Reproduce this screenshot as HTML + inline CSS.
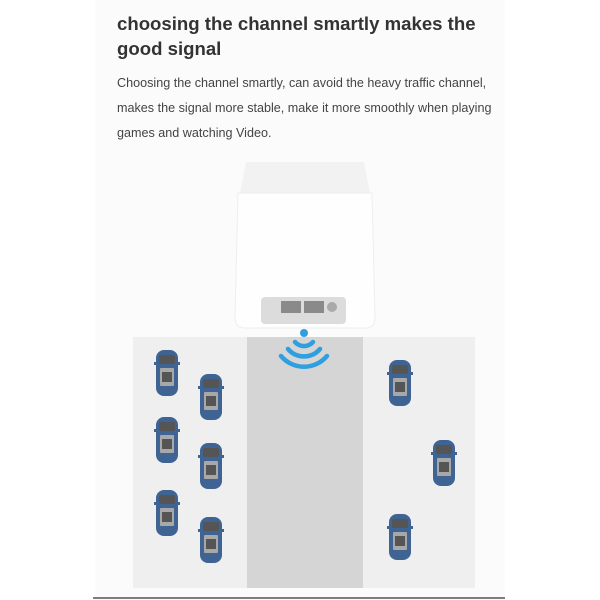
<!DOCTYPE html>
<html><head><style>
body{margin:0;width:600px;height:600px;background:#fff;position:relative;overflow:hidden;font-family:"Liberation Sans",sans-serif}
.panel{position:absolute;left:95px;top:0;width:410px;height:600px;background:#fbfbfb}
h1{position:absolute;left:117px;top:11px;margin:0;font-size:18.6px;line-height:25px;font-weight:bold;color:#333;width:380px}
p{position:absolute;left:117px;top:71px;margin:0;font-size:12.6px;line-height:25px;color:#444;width:385px;white-space:nowrap}
.car{position:absolute;width:22px;height:46px}
</style></head><body>
<div class="panel"></div>
<h1>choosing the channel smartly makes the good signal</h1>
<p>Choosing the channel smartly, can avoid the heavy traffic channel,<br>makes the signal more stable, make it more smoothly when playing<br>games and watching Video.</p>
<svg width="600" height="600" style="position:absolute;left:0;top:0">
<defs>
<g id="car">
<rect x="0" y="0" width="22" height="46" rx="8" fill="#3f6494"/>
<rect x="3" y="5" width="16" height="9" rx="2" fill="#555"/>
<rect x="4" y="18" width="14" height="18" rx="1" fill="#a8a8a8"/>
<rect x="6" y="22" width="10" height="10" fill="#555"/>
<rect x="-2" y="12" width="3" height="3" fill="#3f6494"/>
<rect x="21" y="12" width="3" height="3" fill="#3f6494"/>
</g>
</defs>
<rect x="133" y="337" width="114" height="251" fill="#efefef"/>
<rect x="247" y="337" width="116" height="251" fill="#d5d5d5"/>
<rect x="363" y="337" width="112" height="251" fill="#efefef"/>
<line x1="93" y1="598" x2="505" y2="598" stroke="#555" stroke-width="1.5"/>
<path d="M246 162 L364 162 L370 193 L240 193 Z" fill="#f2f2f2"/>
<path d="M238 193 L372 193 L375 318 Q375 328 365 328 L245 328 Q235 328 235 318 Z" fill="#fefefe" stroke="#eee"/>
<rect x="261" y="297" width="85" height="27" rx="4" fill="#dcdcdc"/>
<rect x="281" y="301" width="20" height="12" fill="#8a8a8a"/>
<rect x="304" y="301" width="20" height="12" fill="#8a8a8a"/>
<circle cx="332" cy="307" r="5" fill="#aaa"/>
<circle cx="304" cy="333" r="4" fill="#2f9fe0"/>
<g fill="none" stroke="#2f9fe0" stroke-width="4.5" stroke-linecap="round">
<path d="M295 342 A12 12 0 0 0 313 342"/>
<path d="M288 349 A21 21 0 0 0 320 349"/>
<path d="M281 356 A30 30 0 0 0 327 356"/>
</g>
<use href="#car" x="156" y="350"/>
<use href="#car" x="200" y="374"/>
<use href="#car" x="156" y="417"/>
<use href="#car" x="200" y="443"/>
<use href="#car" x="156" y="490"/>
<use href="#car" x="200" y="517"/>
<use href="#car" x="389" y="360"/>
<use href="#car" x="433" y="440"/>
<use href="#car" x="389" y="514"/>
</svg>
</body></html>
